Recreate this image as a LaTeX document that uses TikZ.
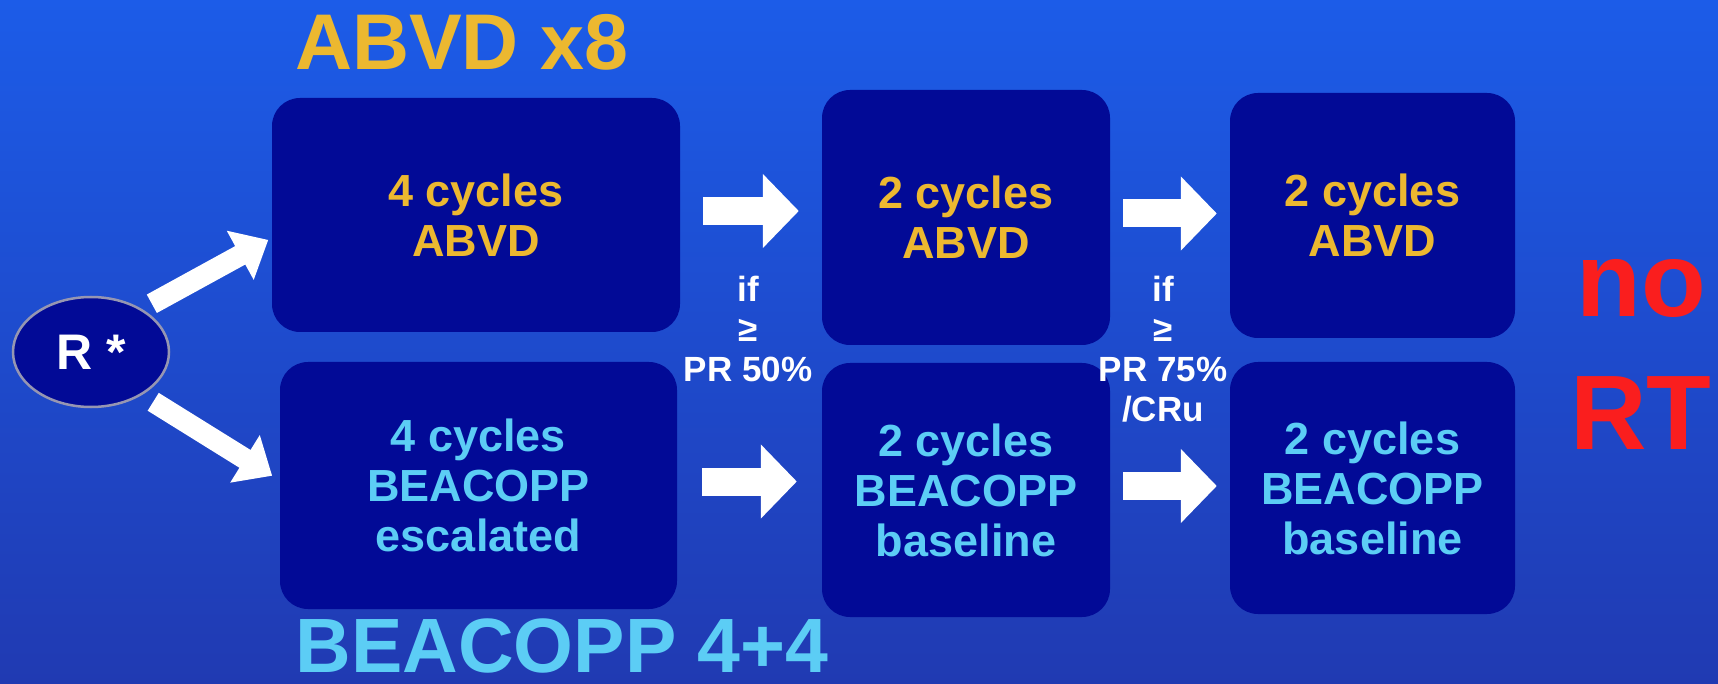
\documentclass[tikz,border=0pt]{standalone}
\usepackage{fontspec}
\setmainfont{Liberation Sans}
\usetikzlibrary{shapes.geometric,arrows.meta,calc}
\definecolor{bgtop}{RGB}{28,92,232}
\definecolor{bgbot}{RGB}{32,58,178}
\definecolor{navy}{RGB}{2,10,150}
\definecolor{abvd}{RGB}{236,184,48}
\definecolor{beac}{RGB}{92,205,245}
\definecolor{redt}{RGB}{250,30,30}
\definecolor{ring}{RGB}{150,150,178}
\tikzset{
  cbox/.style={fill=navy, rounded corners=28pt, align=center, inner sep=0pt, font=\bfseries\fontsize{45}{50}\selectfont},
  harrow/.style={white, line width=28pt, -{Triangle[length=36pt,width=72pt]}},
  darrow/.style={white, line width=21pt, -{Triangle[length=32pt,width=54pt]}},
  cond/.style={white, align=center, inner sep=0pt, font=\bfseries\fontsize{35}{40}\selectfont},
}

\begin{document}
\begin{tikzpicture}[x=1pt,y=-1pt]
    \useasboundingbox (0,0) rectangle (1718,684);
    \shade[top color=bgtop, bottom color=bgbot] (0,0) rectangle (1718,684);
    \foreach \x/\y/\w/\h/\c/\t [count=\i from 1] in {476/215/408/234/abvd/{4 cycles\\ABVD}, 478.5/485.5/397/247/beac/{4 cycles\\BEACOPP\\escalated},
      966/217.5/288/255/abvd/{2 cycles\\ABVD}, 966/490/288/254/beac/{2 cycles\\BEACOPP\\baseline},
      1372.5/215.5/285/245/abvd/{2 cycles\\ABVD}, 1372.5/488/285/252/beac/{2 cycles\\BEACOPP\\baseline}}
      {\node[cbox, minimum width=\w pt, minimum height=\h pt, text=\c] (b\i) at (\x,\y) {\t};}
    %        b1 b2 on the left, b3 b4 in the middle, b5 b6 on the right
    \node[ellipse, fill=navy, draw=ring, line width=2.5pt, minimum width=156pt, minimum height=110pt, inner sep=0pt,
      text=white, font=\bfseries\fontsize{50}{50}\selectfont] (r) at (91,352) {R *};
    \draw[darrow, shorten <=11pt, shorten >=4pt] (r.40) -- ([yshift=-23pt]b1.west);
    \draw[darrow, shorten <=13pt, shorten >=9pt] (r.-40) -- ([yshift=5pt]b2.west);
    \foreach \a/\b/\s in {1/3/23,2/4/25,3/5/13,4/6/13}
      {\draw[harrow, shorten <=\s pt, shorten >=\s pt] ($(b\a.east)+(0,-4)$) -- ($(b\a.east -| b\b.west)+(0,-4)$);}
    \node[cond] (if1) at (748,329) {if\\≥\\PR 50\%};
    \node[cond] (if2) at (1163,349) {if\\≥\\PR 75\%\\/CRu};
    \node[text=redt, align=center, inner sep=0pt, font=\bfseries\fontsize{106}{133}\selectfont] (nort) at (1641,354) {no\\RT};
    \node[anchor=base, inner sep=0pt, text=abvd, font=\bfseries\fontsize{79}{79}\selectfont] (t1) at (462,70) {ABVD x8};
    \node[anchor=base, inner sep=0pt, text=beac, font=\bfseries\fontsize{77}{77}\selectfont] (t2) at (562,672) {BEACOPP 4+4};
  \end{tikzpicture}
\end{document}
